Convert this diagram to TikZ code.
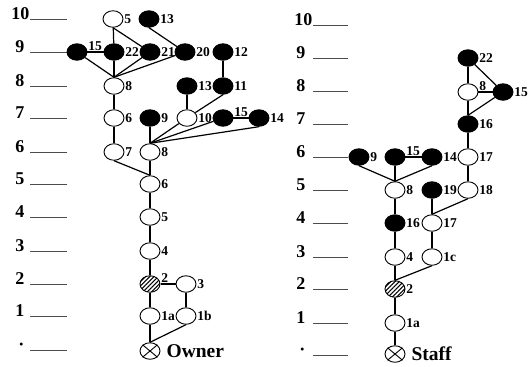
\documentclass[tikz,border=0pt]{standalone}
\usepackage{fontspec}
\setmainfont{Liberation Serif}
\usetikzlibrary{shapes.geometric,patterns.meta}
\begin{document}
\begin{tikzpicture}[x=1pt,y=-1pt,
  nd/.style={ellipse,draw,line width=0.9pt,minimum width=20pt,minimum height=16.5pt,inner sep=0pt},
  wn/.style={nd,fill=white},
  bn/.style={nd,fill=black},
  hn/.style={nd,pattern={Lines[angle=45,distance=3pt,line width=1.1pt]}},
  xn/.style={nd},
  lbl/.style={font=\bfseries\fontsize{13.5}{14}\selectfont,inner sep=0.6pt,label distance=0pt},
  up/.style={lbl,anchor=south west,yshift=0.5pt},
  lvl/.style={font=\bfseries\fontsize{18}{18}\selectfont,inner sep=0pt,anchor=base east},
  big/.style={font=\bfseries\fontsize{19.5}{20}\selectfont,inner sep=0pt},
  edge/.style={line width=1.2pt},
  rule/.style={line width=0.7pt,black!70},
]
\useasboundingbox (0,0) rectangle (531,367);

% level scales
\foreach \i/\t/\x/\y in {10/10/29.5/19, 9/9/24.5/52, 8/8/24.5/86, 7/7/24.5/118, 6/6/24.5/152, 5/5/24.5/184, 4/4/24.5/217, 3/3/24.5/251, 2/2/24.5/284, 1/1/24.5/316, 0/·/24.5/350}{
  \node[lvl] (ll\i) at (\x,\y) {\t};
  \draw[rule] (30,\y) -- (67,\y);
}
\foreach \i/\t/\x/\y in {10/10/312.5/25, 9/9/305.5/58, 8/8/305.5/91, 7/7/305.5/124, 6/6/305.5/157, 5/5/305.5/190, 4/4/305.5/223, 3/3/305.5/257, 2/2/305.5/289, 1/1/305.5/323, 0/·/305.5/355}{
  \node[lvl] (rl\i) at (\x,\y) {\t};
  \draw[rule] (313,\y) -- (348,\y);
}

% ---------- Owner tree ----------
\node[wn,label={[lbl]0:5}]  (a5)  at (113,19) {};
\node[bn,label={[lbl]0:13}] (a13) at (149,19) {};
\node[bn,label={[up]0:15}]  (b15) at (77,52) {};
\node[bn,label={[lbl]0:22}] (b22) at (114,52) {};
\node[bn,label={[lbl]0:21}] (b21) at (150,52) {};
\node[bn,label={[lbl]0:20}] (b20) at (185,52) {};
\node[bn,label={[lbl]0:12}] (b12) at (223,52) {};
\node[wn,label={[lbl]0:8}]  (c8)  at (114,86) {};
\node[bn,label={[lbl]0:13}] (c13) at (187,86) {};
\node[bn,label={[lbl]0:11}] (c11) at (223,86) {};
\node[wn,label={[lbl]0:6}]  (d6)  at (114,118) {};
\node[bn,label={[lbl]0:9}]  (d9)  at (150,118) {};
\node[wn,label={[lbl]0:10}] (d10) at (187,118) {};
\node[bn,label={[up]0:15}]  (d15) at (223,118) {};
\node[bn,label={[lbl]0:14}] (d14) at (259,118) {};
\node[wn,label={[lbl]0:7}]  (e7)  at (114,152) {};
\node[wn,label={[lbl]0:8}]  (e8)  at (150,152) {};
\node[wn,label={[lbl]0:6}]  (f6)  at (150,184) {};
\node[wn,label={[lbl]0:5}]  (g5)  at (150,217) {};
\node[wn,label={[lbl]0:4}]  (h4)  at (150,251) {};
\node[hn,label={[up]0:2}]   (i2)  at (150,284) {};
\node[wn,label={[lbl]0:3}]  (i3)  at (186,284) {};
\node[wn,label={[lbl]0:1a}] (j1a) at (150,316) {};
\node[wn,label={[lbl]0:1b}] (j1b) at (186,316) {};
\node[xn,label={[big,label distance=6pt]0:Owner}] (own) at (150,351) {};
\draw[line width=0.9pt] (own.north east) -- (own.south west) (own.north west) -- (own.south east);

\begin{scope}[edge]
\draw (a5) -- (b22);
\draw (a5.south) -- (b21);
\draw (a13.south) -- (b20);
\draw (b15) -- (b22);
\draw (b15) -- (c8.north);
\draw (b22) -- (c8);
\draw (b21) -- (c8.north);
\draw (b20) -- (c8.north);
\draw (b12) -- (c11);
\draw (c8) -- (d6);
\draw (d6) -- (e7);
\draw (c13) -- (d10);
\draw (c11.south) -- (d10);
\draw (d9) -- (e8);
\draw (d10) -- (e8.north);
\draw (d15) -- (e8.north);
\draw (d14.south) -- (e8.north);
\draw (d15) -- (d14);
\draw (e7.south) -- (f6.north);
\draw (e8) -- (f6);
\draw (f6) -- (g5);
\draw (g5) -- (h4);
\draw (h4) -- (i2);
\draw (i2) -- (i3);
\draw (i2) -- (j1a);
\draw (i3) -- (j1b);
\draw (j1a) -- (own);
\draw (j1b.south) -- (own.north);
\end{scope}

% ---------- Staff tree ----------
\node[bn,label={[lbl]0:22}] (r22)  at (468,58) {};
\node[wn,label={[up]0:8}]   (r8)   at (468,92) {};
\node[bn,label={[lbl]0:15}] (r15)  at (503,92) {};
\node[bn,label={[lbl]0:16}] (r16)  at (468,124) {};
\node[bn,label={[lbl]0:9}]  (r9)   at (359,157) {};
\node[bn,label={[up]0:15}]  (r15b) at (395,157) {};
\node[bn,label={[lbl]0:14}] (r14)  at (432,157) {};
\node[wn,label={[lbl]0:17}] (r17)  at (468,157) {};
\node[wn,label={[lbl]0:8}]  (r8b)  at (395,190) {};
\node[bn,label={[lbl]0:19}] (r19)  at (432,190) {};
\node[wn,label={[lbl]0:18}] (r18)  at (468,190) {};
\node[bn,label={[lbl]0:16}] (r16b) at (395,223) {};
\node[wn,label={[lbl]0:17}] (r17b) at (432,223) {};
\node[wn,label={[lbl]0:4}]  (r4)   at (395,257) {};
\node[wn,label={[lbl]0:1c}] (r1c)  at (432,257) {};
\node[hn,label={[lbl]0:2}]  (r2)   at (395,289) {};
\node[wn,label={[lbl]0:1a}] (r1a)  at (395,323) {};
\node[xn,label={[big,label distance=6pt]0:Staff}] (staff) at (395,354) {};
\draw[line width=0.9pt] (staff.north east) -- (staff.south west) (staff.north west) -- (staff.south east);

\begin{scope}[edge]
\draw (r22) -- (r8);
\draw (r22) -- (r15);
\draw (r8) -- (r15);
\draw (r15) -- (r16.north);
\draw (r8) -- (r16);
\draw (r16) -- (r17);
\draw (r17) -- (r18);
\draw (r9.south) -- (r8b.north);
\draw (r15b) -- (r8b);
\draw (r14.south) -- (r8b.north);
\draw (r15b) -- (r14);
\draw (r18.south) -- (r17b.north);
\draw (r19) -- (r17b);
\draw (r8b) -- (r16b);
\draw (r16b) -- (r4);
\draw (r17b) -- (r1c);
\draw (r1c.south) -- (r2.north);
\draw (r4) -- (r2);
\draw (r2) -- (r1a);
\draw (r1a) -- (staff);
\end{scope}
\end{tikzpicture}
\end{document}
